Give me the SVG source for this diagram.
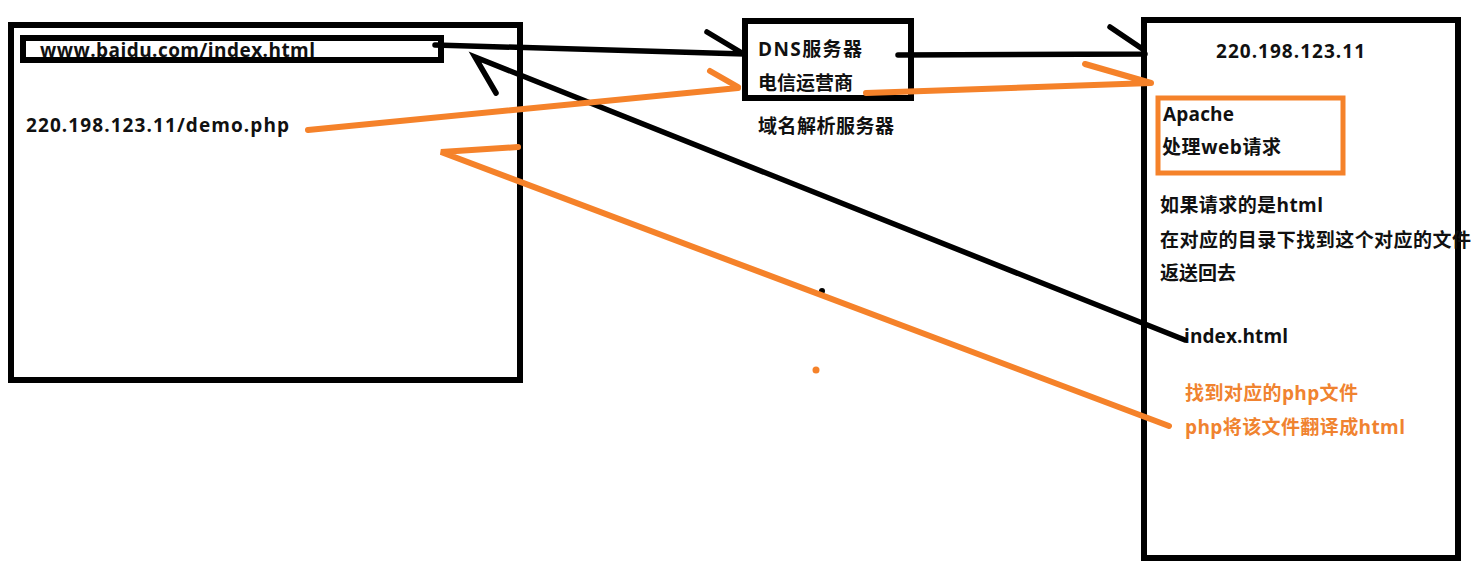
<svg xmlns="http://www.w3.org/2000/svg" width="1482" height="569" viewBox="0 0 1482 569">
<style>
.box{fill:none;stroke:#000;stroke-width:6}
.obox{fill:none;stroke:#F5822A;stroke-width:5}
.t{font-family:"Open Sans","Noto Sans CJK SC","Microsoft YaHei",sans-serif;font-weight:bold;font-size:19px;fill:#111}
.o{fill:#F08330}
.bl{stroke:#000;stroke-width:5.5;stroke-linecap:round;fill:none}
.ol{stroke:#F5822A;stroke-width:6;stroke-linecap:round;fill:none}
</style>
<rect width="1482" height="569" fill="#fff"/>
<g id="browser">
<rect class="box" x="11" y="25" width="509" height="355"/>
<rect class="box" x="23" y="38" width="418" height="22" stroke-width="5"/>
<text class="t" x="40" y="57" textLength="275" lengthAdjust="spacing">www.baidu.com/index.html</text>
<text class="t" x="26" y="132" textLength="263" lengthAdjust="spacing">220.198.123.11/demo.php</text>
</g>
<g id="dns">
<rect class="box" x="745" y="21" width="166" height="77" stroke-width="5"/>
<text class="t" x="758" y="56" textLength="104" lengthAdjust="spacing">DNS服务器</text>
<text class="t" x="758" y="90">电信运营商</text>
<text class="t" x="758" y="133" textLength="136" lengthAdjust="spacing">域名解析服务器</text>
</g>
<g id="server">
<rect class="box" x="1144" y="20" width="314" height="538"/>
<text class="t" x="1216" y="58" textLength="149" lengthAdjust="spacing">220.198.123.11</text>
<rect class="obox" x="1158" y="98" width="185" height="75"/>
<text class="t" x="1163" y="121" textLength="71" lengthAdjust="spacing">Apache</text>
<text class="t" x="1162" y="154" textLength="119" lengthAdjust="spacing">处理web请求</text>
<text class="t" x="1160" y="212" textLength="163" lengthAdjust="spacing">如果请求的是html</text>
<text class="t" x="1160" y="247" textLength="311" lengthAdjust="spacing">在对应的目录下找到这个对应的文件</text>
<text class="t" x="1160" y="280">返送回去</text>
<text class="t" x="1184" y="343" textLength="104" lengthAdjust="spacing">index.html</text>
<text class="t o" x="1185" y="400" textLength="173" lengthAdjust="spacing">找到对应的php文件</text>
<text class="t o" x="1185" y="434" textLength="220" lengthAdjust="spacing">php将该文件翻译成html</text>
</g>
<g id="connectors">
<path class="bl" d="M435 45 L745 54 M707 32 L742 53"/>
<path class="bl" d="M898 55 L1145 54 M1110 27 L1144 50"/>
<path class="bl" d="M1185 340 L475 57 L496 93"/>
<circle cx="822" cy="291" r="3" fill="#000"/>
<path class="ol" d="M308 130 L738 88 M710 71 L738 87"/>
<path class="ol" d="M866 93 L1151 83 M1085 64 L1151 83"/>
<path class="ol" d="M1169 426 L441 152 L518 147"/>
<circle cx="816" cy="370" r="3.5" fill="#F5822A"/>
</g>
</svg>
